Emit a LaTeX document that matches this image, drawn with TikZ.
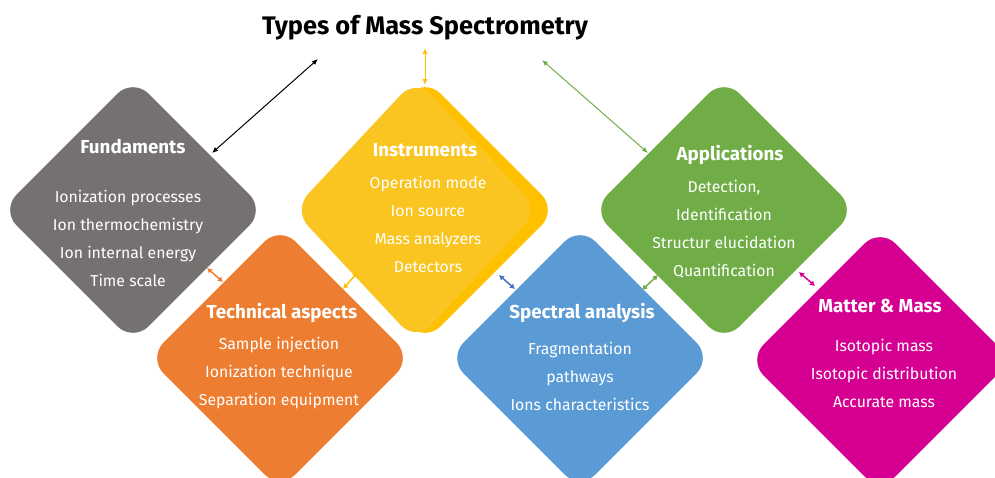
\documentclass[tikz,border=0pt]{standalone}
\usepackage{fontspec}
\setmainfont{Fira Sans}
\usetikzlibrary{shapes.geometric,arrows.meta}

\definecolor{fundgrey}{HTML}{767171}
\definecolor{instlight}{HTML}{FAC521}
\definecolor{instdark}{HTML}{FFC000}
\definecolor{techorange}{HTML}{ED7D31}
\definecolor{specblue}{HTML}{5B9BD5}
\definecolor{appgreen}{HTML}{70AD47}
\definecolor{massmagenta}{HTML}{D50092}
\definecolor{arrowblue}{HTML}{4472C4}

\tikzset{
  box/.style={diamond,minimum width=264pt,minimum height=264pt,inner sep=0pt,
    rounded corners=22pt,fill=#1},
  head/.style={text=white,font=\fontsize{18.8}{22}\selectfont\bfseries},
  items/.style={text=white,align=center,font=\fontsize{15.8}{28}\selectfont},
  bigarrow/.style={draw=#1,line width=1pt,{Latex[length=6pt,width=5pt]}-{Latex[length=6pt,width=5pt]}},
  smallarrow/.style={draw=#1,line width=1.5pt,{Latex[length=5pt,width=6pt]}-{Latex[length=5pt,width=6pt]}}
}

\begin{document}
\begin{tikzpicture}[x=1pt,y=-1pt]
\useasboundingbox (0,0) rectangle (995,477);

% the six diamonds
\node[box=fundgrey] (fund) at (133,210) {};
\node[box=instdark] (inst) at (425,210) {};
\node[box=instlight,minimum width=246pt,minimum height=263pt] (instface) at (416,210) {};
\node[box=appgreen] (appl) at (724,210) {};
\node[box=techorange] (tech) at (280,358) {};
\node[box=specblue] (spec) at (580,358) {};
\node[box=massmagenta] (mass) at (880,360) {};

% title
\node[font=\fontsize{25.4}{28}\selectfont\bfseries] (title) at (425,28) {Types of Mass Spectrometry};

% texts
\node[head] (fundhead) at (133,147) {Fundaments};
\node[items] (funditems) at (128,238) {Ionization processes\\Ion thermochemistry\\Ion internal energy\\Time scale};

\node[head] (insthead) at (425,150) {Instruments};
\node[items] (institems) at (428,224) {Operation mode\\Ion source\\Mass analyzers\\Detectors};

\node[head] (applhead) at (730,155) {Applications};
\node[items] (applitems) at (724,229) {Detection,\\Identification\\Structur elucidation\\Quantification};

\node[head] (techhead) at (282,313) {Technical aspects};
\node[items] (techitems) at (279,373) {Sample injection\\Ionization technique\\Separation equipment};

\node[head] (spechead) at (582,313) {Spectral analysis};
\node[items] (specitems) at (580,376.5) {Fragmentation\\pathways\\Ions characteristics};

\node[head] (masshead) at (880,306) {Matter \& Mass};
\node[items] (massitems) at (884,373) {Isotopic mass\\Isotopic distribution\\Accurate mass};

% arrow ends
\coordinate (t1) at (318,59);
\coordinate (f1) at (212,153);
\coordinate (t2) at (425,48);
\coordinate (i1) at (425,85);
\coordinate (t3) at (542,60);
\coordinate (a1) at (648,153);
\coordinate (ft) at (207,268);
\coordinate (tf) at (223,282);
\coordinate (ti) at (343,289);
\coordinate (it) at (358,272);
\coordinate (is) at (499,275);
\coordinate (si) at (515,289);
\coordinate (sa) at (642,290);
\coordinate (as) at (658,275);
\coordinate (am) at (799,272);
\coordinate (ma) at (815,286);

\draw[bigarrow=black] (t1) -- (f1);
\draw[bigarrow=instdark] (t2) -- (i1);
\draw[bigarrow=appgreen] (t3) -- (a1);

\draw[smallarrow=techorange] (ft) -- (tf);
\draw[smallarrow=instdark] (ti) -- (it);
\draw[smallarrow=arrowblue] (is) -- (si);
\draw[smallarrow=appgreen] (sa) -- (as);
\draw[smallarrow=massmagenta] (am) -- (ma);
\end{tikzpicture}
\end{document}
